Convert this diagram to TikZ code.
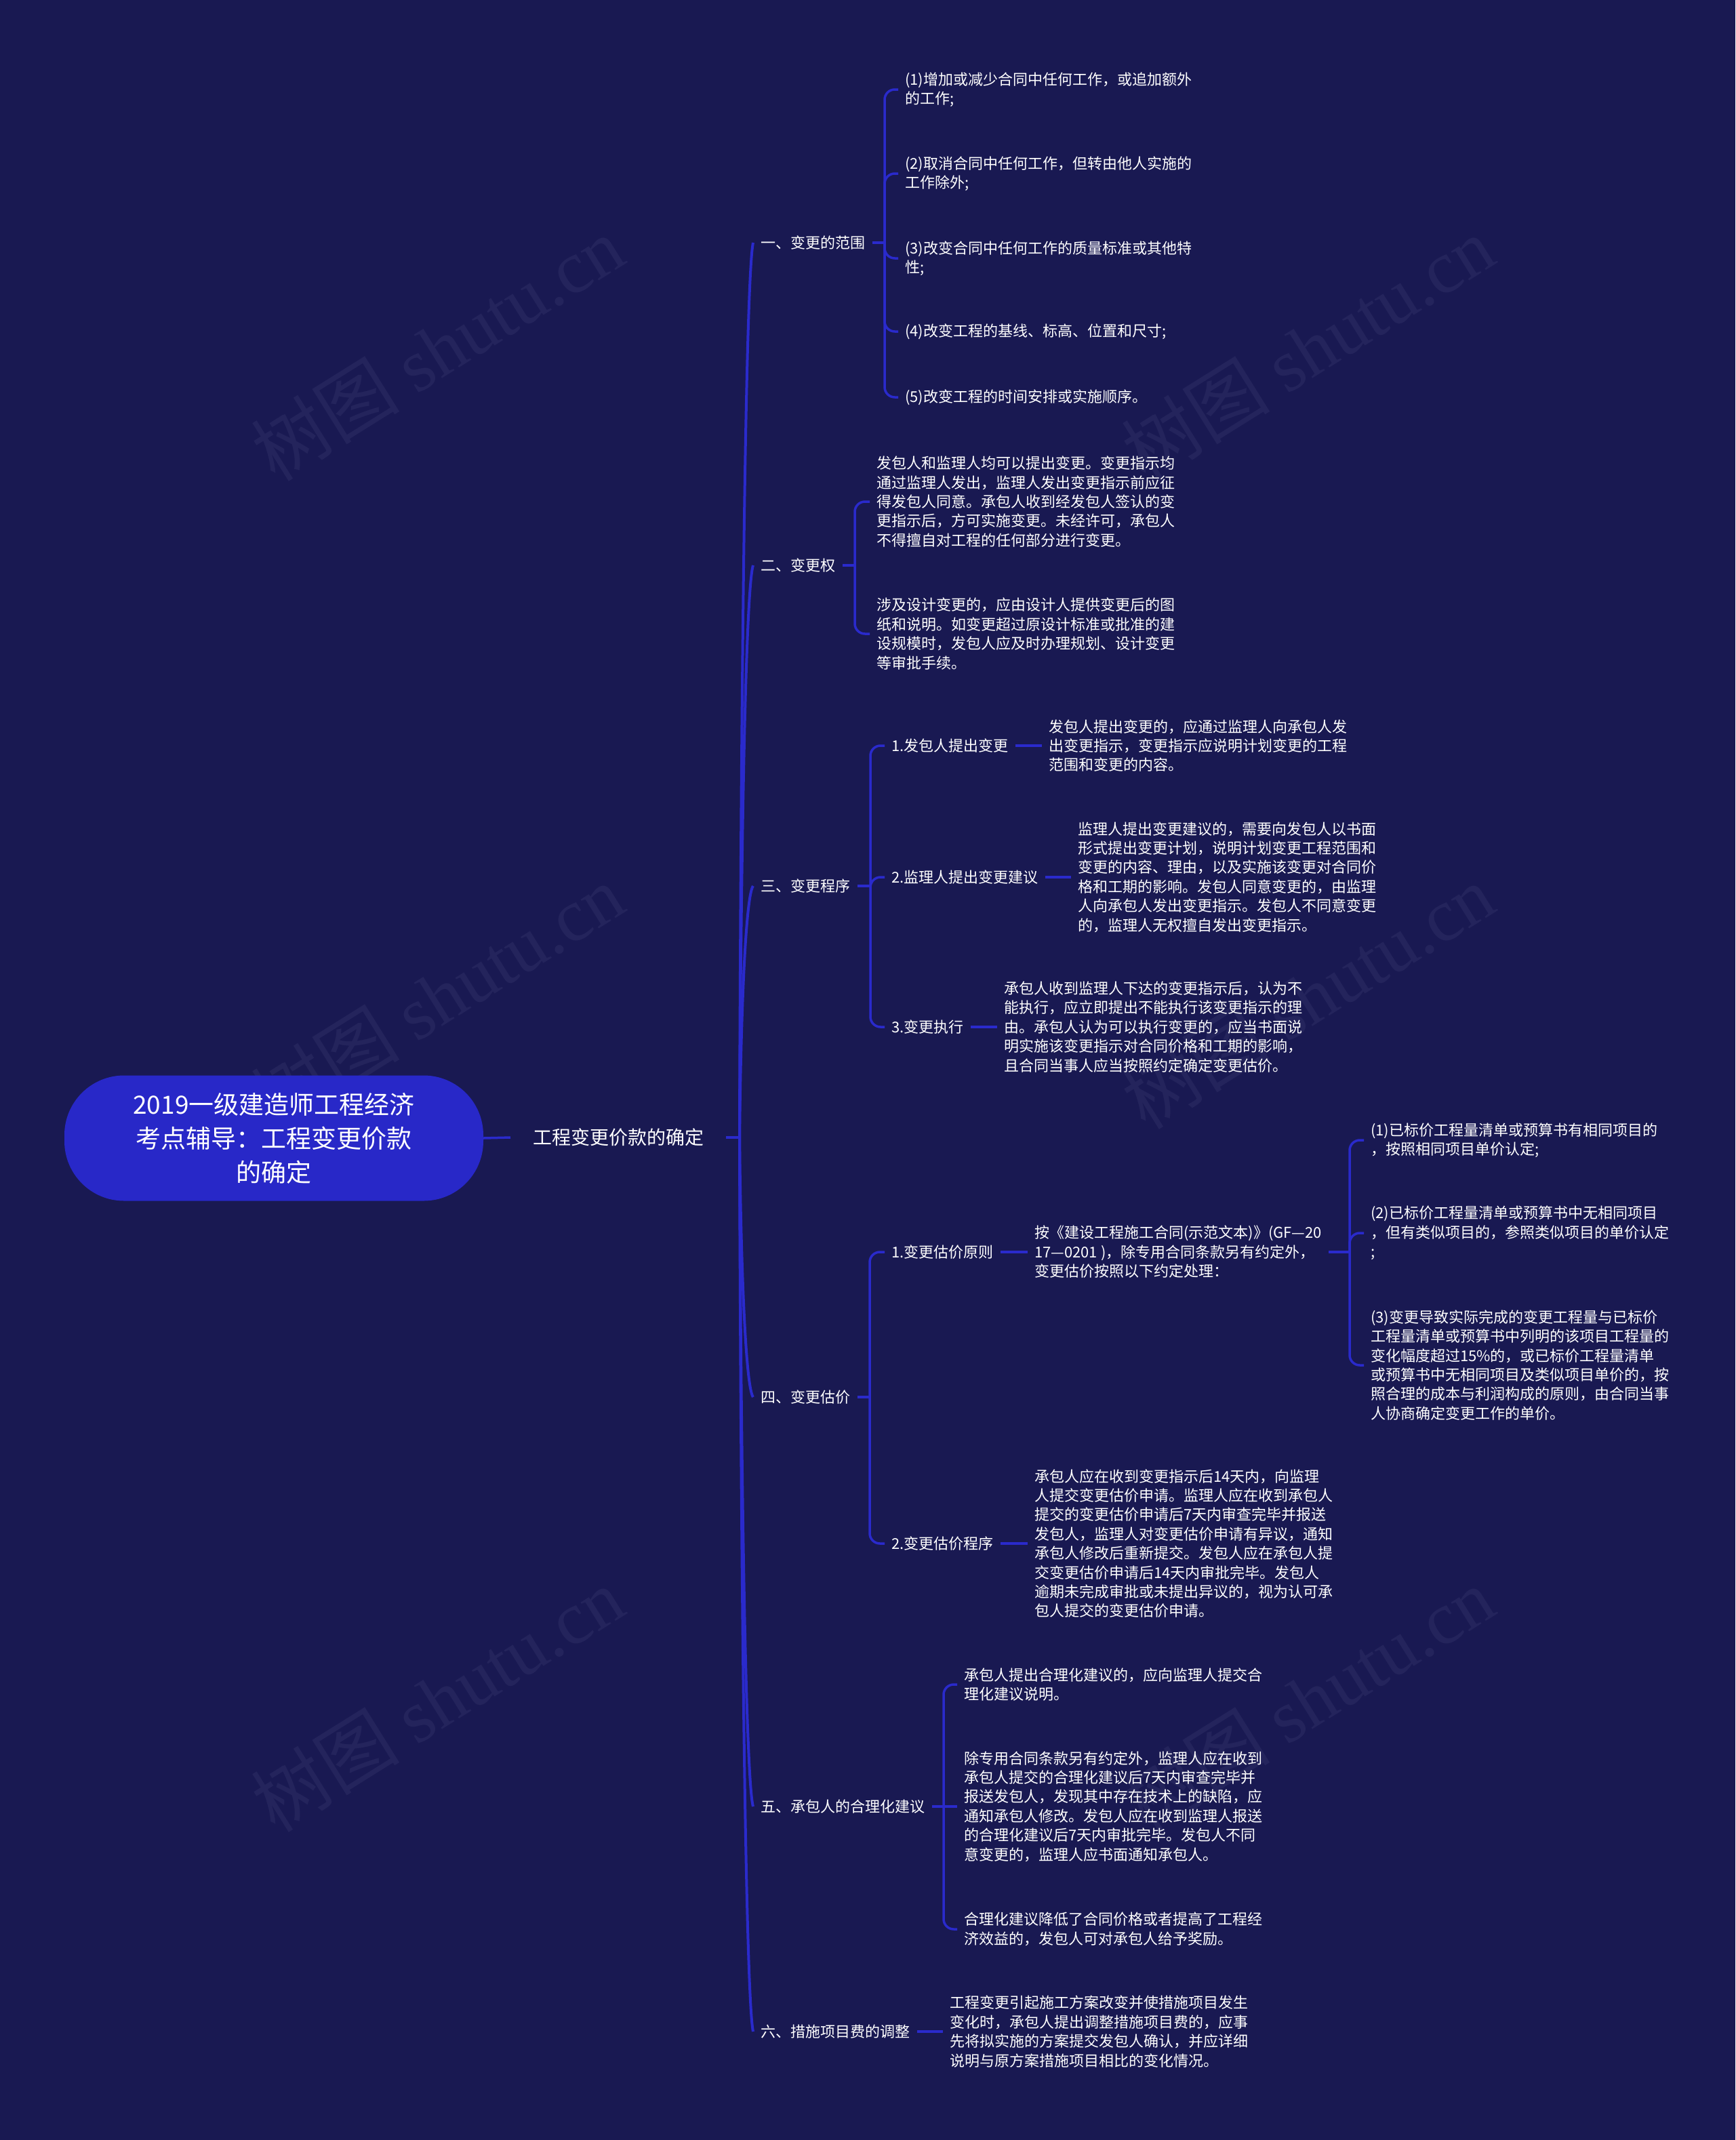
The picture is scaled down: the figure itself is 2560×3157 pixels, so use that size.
\documentclass[tikz,border=0pt]{standalone}
\usepackage{fontspec}
\setmainfont{Noto Sans CJK SC}
\newfontfamily\wmserif{Liberation Serif}
\newfontfamily\wmcjk{Noto Sans CJK SC}
\definecolor{bg}{RGB}{25,25,82}
\definecolor{ln}{RGB}{42,42,204}
\definecolor{rootfill}{RGB}{40,40,200}
\definecolor{wmc}{RGB}{36,36,92}
\tikzset{
  br/.style={draw=ln, line width=3.5pt},
  brc/.style={draw=ln, line width=3.5pt, rounded corners=15pt},
  spine/.style={draw=ln, line width=4pt},
  rootbox/.style={fill=rootfill, rounded corners=88pt, minimum width=618pt, minimum height=185pt,
    text=white, font=\fontsize{37}{50}\selectfont, align=center, inner sep=0pt},
  lone/.style={anchor=west, inner xsep=33pt, inner ysep=4pt, text=white, font=\fontsize{28}{36}\selectfont},
  ltwo/.style={anchor=west, inner xsep=11pt, inner ysep=2pt, text=white, font=\fontsize{22}{28.4}\selectfont, align=left},
  leaf/.style={anchor=west, inner xsep=10pt, inner ysep=2pt, text=white, font=\fontsize{22}{28.4}\selectfont, align=left},
  wmark/.style={text=wmc, font=\fontsize{110}{120}\selectfont, rotate=32, inner sep=0pt}
}
\begin{document}
\begin{tikzpicture}[x=1pt,y=-1pt]
\fill[bg] (0,0) rectangle (2560,3157);
\useasboundingbox (0,0) rectangle (2560,3157);

% watermark
\node[wmark] (w1) at (645,514) {\wmcjk 树图 \wmserif shutu.cn};
\node[wmark] (w2) at (1929,514) {\wmcjk 树图 \wmserif shutu.cn};
\node[wmark] (w3) at (645,1470) {\wmcjk 树图 \wmserif shutu.cn};
\node[wmark] (w4) at (1929,1470) {\wmcjk 树图 \wmserif shutu.cn};
\node[wmark] (w5) at (645,2507) {\wmcjk 树图 \wmserif shutu.cn};
\node[wmark] (w6) at (1929,2507) {\wmcjk 树图 \wmserif shutu.cn};

% root and level 1
\node[rootbox] (R) at (404,1679) {2019一级建造师工程经济\\考点辅导：工程变更价款\\的确定};
\node[lone] (L1) at (753,1678) {工程变更价款的确定};
\coordinate (J) at (1091,1678);
\draw[br] (R.east) -- (L1.west);
\draw[br] (L1.east) -- (J);

% level 2
\node[ltwo] (A) at (1111,358) {一、变更的范围};
\node[ltwo] (B) at (1111,834) {二、变更权};
\node[ltwo] (C) at (1111,1307) {三、变更程序};
\node[ltwo] (D) at (1111,2061) {四、变更估价};
\node[ltwo] (E) at (1111,2665) {五、承包人的合理化建议};
\node[ltwo] (F) at (1111,2997) {六、措施项目费的调整};

\draw[spine] (J) .. controls (1093,1018) and (1100,411) .. (A.west);
\draw[spine] (J) .. controls (1093,1256) and (1100,868) .. (B.west);
\draw[spine] (J) .. controls (1093,1492) and (1100,1322) .. (C.west);
\draw[spine] (J) .. controls (1093,1870) and (1100,2046) .. (D.west);
\draw[spine] (J) .. controls (1093,2172) and (1100,2626) .. (E.west);
\draw[spine] (J) .. controls (1093,2338) and (1100,2944) .. (F.west);

% ---- 一
\node[leaf] (A1) at (1325,132) {(1)增加或减少合同中任何工作，或追加额外\\的工作;};
\node[leaf] (A2) at (1325,256) {(2)取消合同中任何工作，但转由他人实施的\\工作除外;};
\node[leaf] (A3) at (1325,381) {(3)改变合同中任何工作的质量标准或其他特\\性;};
\node[leaf] (A4) at (1325,489) {(4)改变工程的基线、标高、位置和尺寸;};
\node[leaf] (A5) at (1325,586) {(5)改变工程的时间安排或实施顺序。};
\coordinate (Ab) at (1305,358);
\draw[br] (A.east) -- (Ab);
\foreach \c in {A1,A2,A3,A4,A5} \draw[brc] (Ab) |- (\c.west);

% ---- 二
\node[leaf] (B1) at (1283,740) {发包人和监理人均可以提出变更。变更指示均\\通过监理人发出，监理人发出变更指示前应征\\得发包人同意。承包人收到经发包人签认的变\\更指示后，方可实施变更。未经许可，承包人\\不得擅自对工程的任何部分进行变更。};
\node[leaf] (B2) at (1283,935) {涉及设计变更的，应由设计人提供变更后的图\\纸和说明。如变更超过原设计标准或批准的建\\设规模时，发包人应及时办理规划、设计变更\\等审批手续。};
\coordinate (Bb) at (1261,834);
\draw[br] (B.east) -- (Bb);
\foreach \c in {B1,B2} \draw[brc] (Bb) |- (\c.west);

% ---- 三
\node[leaf] (C1) at (1305,1100) {1.发包人提出变更};
\node[leaf] (C2) at (1305,1294) {2.监理人提出变更建议};
\node[leaf] (C3) at (1305,1515) {3.变更执行};
\coordinate (Cb) at (1284,1307);
\draw[br] (C.east) -- (Cb);
\foreach \c in {C1,C2,C3} \draw[brc] (Cb) |- (\c.west);
\node[leaf] (C1L) at (1537,1100) {发包人提出变更的，应通过监理人向承包人发\\出变更指示，变更指示应说明计划变更的工程\\范围和变更的内容。};
\node[leaf] (C2L) at (1580,1294) {监理人提出变更建议的，需要向发包人以书面\\形式提出变更计划，说明计划变更工程范围和\\变更的内容、理由，以及实施该变更对合同价\\格和工期的影响。发包人同意变更的，由监理\\人向承包人发出变更指示。发包人不同意变更\\的，监理人无权擅自发出变更指示。};
\node[leaf] (C3L) at (1471,1515) {承包人收到监理人下达的变更指示后，认为不\\能执行，应立即提出不能执行该变更指示的理\\由。承包人认为可以执行变更的，应当书面说\\明实施该变更指示对合同价格和工期的影响，\\且合同当事人应当按照约定确定变更估价。};
\draw[br] (C1.east) -- (C1L.west);
\draw[br] (C2.east) -- (C2L.west);
\draw[br] (C3.east) -- (C3L.west);

% ---- 四
\node[leaf] (D1) at (1305,1847) {1.变更估价原则};
\node[leaf] (D2) at (1305,2277) {2.变更估价程序};
\coordinate (Db) at (1283,2061);
\draw[br] (D.east) -- (Db);
\foreach \c in {D1,D2} \draw[brc] (Db) |- (\c.west);
\node[leaf] (D1L) at (1516,1847) {按《建设工程施工合同(示范文本)》(GF—20\\17—0201 )，除专用合同条款另有约定外，\\变更估价按照以下约定处理：};
\node[leaf] (D2L) at (1516,2277) {承包人应在收到变更指示后14天内，向监理\\人提交变更估价申请。监理人应在收到承包人\\提交的变更估价申请后7天内审查完毕并报送\\发包人，监理人对变更估价申请有异议，通知\\承包人修改后重新提交。发包人应在承包人提\\交变更估价申请后14天内审批完毕。发包人\\逾期未完成审批或未提出异议的，视为认可承\\包人提交的变更估价申请。};
\draw[br] (D1.east) -- (D1L.west);
\draw[br] (D2.east) -- (D2L.west);
\node[leaf] (D1a) at (2012,1682) {(1)已标价工程量清单或预算书有相同项目的\\，按照相同项目单价认定;};
\node[leaf] (D1b) at (2012,1819) {(2)已标价工程量清单或预算书中无相同项目\\，但有类似项目的，参照类似项目的单价认定\\;};
\node[leaf] (D1c) at (2012,2014) {(3)变更导致实际完成的变更工程量与已标价\\工程量清单或预算书中列明的该项目工程量的\\变化幅度超过15\%的，或已标价工程量清单\\或预算书中无相同项目及类似项目单价的，按\\照合理的成本与利润构成的原则，由合同当事\\人协商确定变更工作的单价。};
\coordinate (D1b0) at (1991,1847);
\draw[br] (D1L.east) -- (D1b0);
\foreach \c in {D1a,D1b,D1c} \draw[brc] (D1b0) |- (\c.west);

% ---- 五
\node[leaf] (E1) at (1412,2485) {承包人提出合理化建议的，应向监理人提交合\\理化建议说明。};
\node[leaf] (E2) at (1412,2665) {除专用合同条款另有约定外，监理人应在收到\\承包人提交的合理化建议后7天内审查完毕并\\报送发包人，发现其中存在技术上的缺陷，应\\通知承包人修改。发包人应在收到监理人报送\\的合理化建议后7天内审批完毕。发包人不同\\意变更的，监理人应书面通知承包人。};
\node[leaf] (E3) at (1412,2846) {合理化建议降低了合同价格或者提高了工程经\\济效益的，发包人可对承包人给予奖励。};
\coordinate (Eb) at (1392,2665);
\draw[br] (E.east) -- (Eb);
\draw[brc] (Eb) |- (E1.west);
\draw[br] (Eb) -- (E2.west);
\draw[brc] (Eb) |- (E3.west);

% ---- 六
\node[leaf] (FL) at (1391,2997) {工程变更引起施工方案改变并使措施项目发生\\变化时，承包人提出调整措施项目费的，应事\\先将拟实施的方案提交发包人确认，并应详细\\说明与原方案措施项目相比的变化情况。};
\draw[br] (F.east) -- (FL.west);
\end{tikzpicture}
\end{document}
